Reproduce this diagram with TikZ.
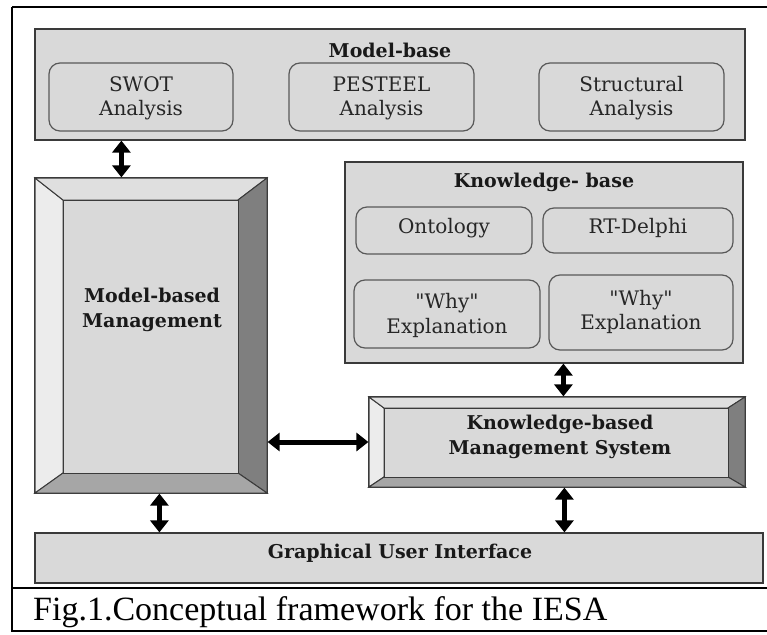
\documentclass[tikz,border=0pt]{standalone}
\usepackage{fontspec}
\usetikzlibrary{arrows.meta,calc}
\newfontfamily\bxf{DejaVu Serif}
\newfontfamily\capf{Liberation Serif}
\definecolor{boxgray}{HTML}{D9D9D9}
\definecolor{edgegray}{HTML}{3A3A3A}
\definecolor{bevL}{HTML}{ECECEC}
\definecolor{bevT}{HTML}{DFDFDF}
\definecolor{bevR}{HTML}{7F7F7F}
\definecolor{bevB}{HTML}{A6A6A6}
\newcommand\boxat[6]{%
  \pgfmathsetmacro\cx{(#2+#4)/2}\pgfmathsetmacro\cy{(#3+#5)/2}%
  \pgfmathsetmacro\ww{#4-#2}\pgfmathsetmacro\hh{#5-#3}%
  \node[#6, minimum width=\ww pt, minimum height=\hh pt, inner sep=0pt] (#1) at (\cx,\cy) {};}
\newcommand\bevelfaces[8]{% x1 y1 x2 y2 ix1 iy1 ix2 iy2
  \draw[bevelline, fill=bevL] (#1,#2) -- (#5,#6) -- (#5,#8) -- (#1,#4) -- cycle;
  \draw[bevelline, fill=bevT] (#1,#2) -- (#3,#2) -- (#7,#6) -- (#5,#6) -- cycle;
  \draw[bevelline, fill=bevR] (#3,#2) -- (#3,#4) -- (#7,#8) -- (#7,#6) -- cycle;
  \draw[bevelline, fill=bevB] (#1,#4) -- (#3,#4) -- (#7,#8) -- (#5,#8) -- cycle;
  \draw[bevelline, fill=boxgray] (#5,#6) rectangle (#7,#8);}
\begin{document}
\begin{tikzpicture}[x=1pt,y=-1pt,
  panel/.style={draw=edgegray, fill=boxgray, line width=1.2pt},
  item/.style={draw=edgegray!85, fill=boxgray, line width=1.2pt, rounded corners=11pt},
  outerbev/.style={draw=edgegray, line width=1.2pt},
  bevelline/.style={draw=edgegray, line width=1pt, line join=miter},
  txt/.style={font=\bxf\fontsize{20}{24}\selectfont, anchor=base, inner sep=0pt, text=black!85},
  ttl/.style={font=\bxf\bfseries\fontsize{19}{24}\selectfont, anchor=base, inner sep=0pt, text=black!90},
  dbl/.style={{Triangle[length=12pt,width=18pt]}-{Triangle[length=12pt,width=18pt]}, line width=5pt, black}]
\useasboundingbox (0,0) rectangle (767,634);
\fill[white] (0,0) rectangle (767,634);
% outer frame and caption
\draw[line width=2.6pt] (12,7) -- (790,7);
\draw[line width=2.6pt] (12,7) -- (12,631) -- (790,631);
\draw[line width=2.6pt] (12,588) -- (790,588);
\node[font=\capf\fontsize{34}{36}\selectfont, anchor=base west, inner sep=0pt] (cap) at (33,620) {Fig.1.Conceptual framework for the IESA};

% Model-base
\boxat{mb}{35}{29}{745}{140}{panel}
\node[ttl] (mbt) at (390,57) {Model-base};
\boxat{swot}{49}{63}{233}{131}{item}
\node[txt] (swot1) at (141,91) {SWOT};
\node[txt] (swot2) at (141,115) {Analysis};
\boxat{pest}{289}{63}{474}{131}{item}
\node[txt] (pest1) at (381.5,91) {PESTEEL};
\node[txt] (pest2) at (381.5,115) {Analysis};
\boxat{stru}{539}{63}{724}{131}{item}
\node[txt] (stru1) at (631.5,91) {Structural};
\node[txt] (stru2) at (631.5,115) {Analysis};

% Model-based Management (bevelled)
\boxat{mbm}{35}{178}{267}{493}{outerbev}
\bevelfaces{35}{178}{267}{493}{63}{200}{238}{473}
\node[ttl] (mbm1) at (152,302) {Model-based};
\node[ttl] (mbm2) at (152,327) {Management};

% Knowledge-base
\boxat{kb}{345}{162}{743}{363}{panel}
\node[ttl] (kbt) at (544,187) {Knowledge- base};
\boxat{onto}{356}{207}{532}{254}{item}
\node[txt] (onto1) at (444,233) {Ontology};
\boxat{rtd}{543}{208}{733}{253}{item}
\node[txt] (rtd1) at (638,233) {RT-Delphi};
\boxat{why1}{354}{280}{540}{348}{item}
\node[txt] (why1a) at (447,308) {"Why"};
\node[txt] (why1b) at (447,333) {Explanation};
\boxat{why2}{549}{275}{733}{350}{item}
\node[txt] (why2a) at (641,305) {"Why"};
\node[txt] (why2b) at (641,329) {Explanation};

% Knowledge-based Management System (bevelled)
\boxat{kbms}{369}{397}{745}{487}{outerbev}
\bevelfaces{369}{397}{745}{487}{384}{408}{728}{477}
\node[ttl] (kbms1) at (560,429) {Knowledge-based};
\node[ttl] (kbms2) at (560,454) {Management System};

% GUI
\boxat{gui}{35}{533}{763}{583}{panel}
\node[ttl] (guit) at (400,558) {Graphical User Interface};

% connectors
\draw[dbl] ($(mb.south west)+(87,0)$) -- ($(mbm.north west)+(87,0)$);
\draw[dbl] (kbms.west -| mbm.east) -- (kbms.west);
\draw[dbl] ($(kb.south west)+(219,0)$) -- ($(kbms.north west)+(195,0)$);
\draw[dbl] ($(mbm.south west)+(125,0)$) -- ($(gui.north west)+(125,0)$);
\draw[dbl] ($(kbms.south west)+(196,0)$) -- ($(gui.north west)+(530,0)$);
\end{tikzpicture}
\end{document}
